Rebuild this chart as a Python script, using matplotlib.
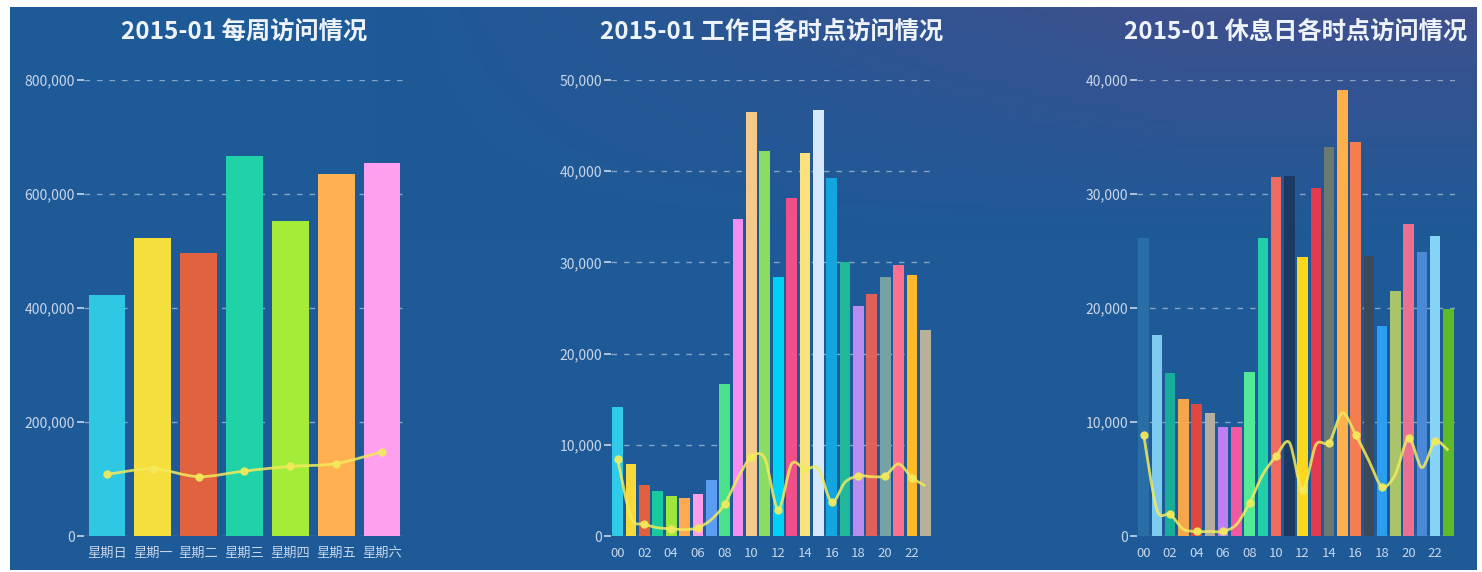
import numpy as np
import matplotlib.pyplot as plt
from matplotlib.path import Path
from matplotlib.patches import PathPatch
from matplotlib.ticker import FuncFormatter

plt.rcParams['font.family'] = ['Noto Sans CJK SC', 'DejaVu Sans']

# ---- data ----
week_labels = ['星期日', '星期一', '星期二', '星期三', '星期四', '星期五', '星期六']
week_pv = [423000, 523000, 497000, 667000, 553000, 635000, 655000]
week_line = [108000, 118000, 104000, 114000, 122000, 127000, 148000]
week_colors = ['#2ec8e2', '#f4df3c', '#e0623f', '#1fd2a8', '#a5ec38', '#ffb050', '#ff9ff0']

hours = ['%02d' % h for h in range(24)]
work_pv = [14100, 7900, 5600, 4900, 4400, 4200, 4600, 6100, 16700, 34800, 46500, 42200,
           28400, 37100, 42000, 46700, 39300, 30000, 25200, 26500, 28400, 29700, 28600, 22600]
work_line = [8400, 2000, 1300, 900, 800, 700, 900, 1800, 3500, 6400, 8700, 8500,
             2900, 7900, 7300, 7400, 3700, 5900, 6600, 6500, 6600, 7900, 6400, 5500]
work_colors = ['#2fcbe8', '#f7d93a', '#e0603f', '#18c9a0', '#9be83a', '#ffaa50', '#ff9ee8', '#5b9cf5',
               '#4be08a', '#f28ef0', '#f5c98a', '#8adc62', '#00d1f5', '#f0508a', '#fbe27e', '#d6e8fb',
               '#12a5e0', '#1fb89a', '#b98cf0', '#e0605a', '#76a2a6', '#ff6f90', '#ffba2a', '#b7b09a']

rest_pv = [26100, 17600, 14300, 12000, 11600, 10800, 9600, 9600, 14400, 26100, 31500, 31600,
           24500, 30500, 34100, 39100, 34600, 24600, 18400, 21500, 27400, 24900, 26300, 19900]
rest_line = [8900, 2300, 1900, 600, 400, 400, 400, 1000, 2900, 5400, 7000, 8200,
             4000, 8000, 8200, 10800, 8900, 6600, 4300, 5400, 8600, 6000, 8300, 7500]
rest_colors = ['#2a6ea8', '#7ecbef', '#17ad9a', '#f5a64a', '#e0483f', '#b5aea0', '#c07ef5', '#f05aa0',
               '#52ea96', '#1fd0a8', '#ef6b60', '#1b3a63', '#fbd81e', '#e33a4d', '#6a7a70', '#ffb04a',
               '#f57e50', '#3b4a5a', '#2a9ef0', '#a9c46a', '#ee7090', '#4a88d8', '#86d4f5', '#5dbb2a']

titles = ['2015-01 每周访问情况', '2015-01 工作日各时点访问情况', '2015-01 休息日各时点访问情况']

W, H = 1482, 572
fig = plt.figure(figsize=(W / 100, H / 100), dpi=100, facecolor='white')

# background gradient (blue, purplish toward the top right)
bg = fig.add_axes([10 / W, 2 / H, 1467 / W, 563 / H])
gx, gy = np.meshgrid(np.linspace(0, 1, 300), np.linspace(0, 1, 120))
w = np.clip((gx - 0.25) / 0.55, 0, 1) * np.clip(1 - gy / 0.42, 0, 1)
blue = np.array([29, 90, 151]) / 255
purple = np.array([62, 80, 142]) / 255
img = blue[None, None, :] * (1 - w[..., None]) + purple[None, None, :] * w[..., None]
bg.imshow(img, aspect='auto', extent=[0, 1, 1, 0])
bg.axis('off')


def smooth_path(x, y, k=0.15):
    n = len(x)
    verts = [(x[0], y[0])]
    codes = [Path.MOVETO]
    for i in range(n - 1):
        a = max(i - 1, 0)
        d = min(i + 2, n - 1)
        c1 = (x[i] + (x[i + 1] - x[a]) * k, y[i] + (y[i + 1] - y[a]) * k)
        c2 = (x[i + 1] - (x[d] - x[i]) * k, y[i + 1] - (y[d] - y[i]) * k)
        verts += [c1, c2, (x[i + 1], y[i + 1])]
        codes += [Path.CURVE4] * 3
    return Path(verts, codes)


tick_color = '#c9d6ea'
line_color = '#f3ea5c'
fmt = FuncFormatter(lambda v, p: '{:,.0f}'.format(v))

panels = [
    (84, 321, week_labels, week_pv, week_line, week_colors, 800000, 200000, 1),
    (611, 321, hours, work_pv, work_line, work_colors, 50000, 10000, 2),
    (1137, 318, hours, rest_pv, rest_line, rest_colors, 40000, 10000, 2),
]

for (left, width, labels, pv, line, colors, ymax, step, every), title in zip(panels, titles):
    ax = fig.add_axes([left / W, 36 / H, width / W, 456 / H])
    ax.set_facecolor('none')
    x = np.arange(len(pv))
    ax.bar(x, pv, width=0.8, color=colors, zorder=2)
    ax.add_patch(PathPatch(smooth_path(x, line), facecolor='none', edgecolor=line_color,
                           lw=2, alpha=0.85, zorder=3))
    ax.plot(x[::every], line[::every], 'o', color=line_color, ms=5, alpha=0.9, zorder=4)
    ax.set_xlim(-0.5, len(pv) - 0.5)
    ax.set_ylim(0, ymax)
    ax.set_yticks(np.arange(0, ymax + 1, step))
    ax.yaxis.set_major_formatter(fmt)
    ax.set_xticks(x[::every])
    ax.set_xticklabels(labels[::every])
    for s in ax.spines.values():
        s.set_visible(False)
    ax.tick_params(axis='y', colors=tick_color, length=5, width=1.2, pad=1.5, labelsize=10)
    ax.tick_params(axis='x', colors=tick_color, length=0, pad=8, labelsize=9.5)
    ax.yaxis.grid(True, linestyle=(0, (4, 5)), color='white', alpha=0.45, lw=1)
    ax.set_axisbelow(True)
    fig.text((left + width / 2) / W, 1 - 32 / H, title, ha='center', va='center',
             fontsize=17.5, fontweight='bold', color='#eef3fa')

fig.savefig('out.png', dpi=100, facecolor='white')
